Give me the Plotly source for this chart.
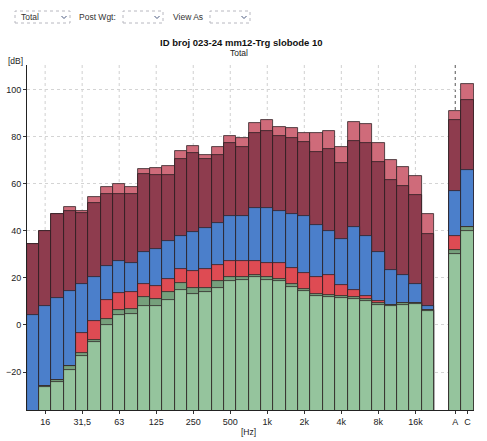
import plotly.graph_objects as go

# ---------------- data ----------------
bands = ["12,5", "16", "20", "25", "31,5", "40", "50", "63", "80", "100", "125", "160",
         "200", "250", "315", "400", "500", "630", "800", "1k", "1,25k", "1,6k", "2k",
         "2,5k", "3,15k", "4k", "5k", "6,3k", "8k", "10k", "12,5k", "16k", "20k"]
totals = ["A", "C"]
band_tick_labels = ["16", "31,5", "63", "125", "250", "500", "1k", "2k", "4k", "8k", "16k"]

# layered spectra [dB] (bands ... , A, C)
lvl_max = [34.6, 40.1, 47.3, 50.2, 48.6, 54.5, 58.4, 59.8, 58.8, 66.1, 66.8, 67.4, 73.9, 76.0,
           72.1, 75.5, 80.2, 79.4, 85.9, 87.1, 84.2, 83.8, 81.4, 81.4, 82.4, 75.7, 86.2, 85.4,
           77.2, 70.1, 67.3, 63.4, 47.2, 90.9, 102.2]
lvl_eq = [34.3, 39.8, 47.0, 48.2, 47.6, 52.0, 55.7, 55.7, 55.7, 64.2, 63.7, 63.7, 70.5, 72.9,
          70.4, 72.2, 77.2, 75.5, 81.7, 82.5, 80.3, 79.6, 77.9, 73.6, 74.6, 68.7, 78.3, 77.2,
          69.1, 61.6, 59.1, 55.3, 38.7, 87.1, 95.5]
lvl_blue = [4.2, 8.0, 11.4, 14.4, 17.4, 20.2, 24.9, 27.3, 26.3, 31.2, 32.2, 35.8, 38.0, 39.4,
            41.1, 43.5, 46.1, 46.1, 49.6, 49.6, 48.2, 47.2, 46.1, 42.5, 39.7, 36.5, 41.8, 37.9,
            31.2, 23.5, 21.3, 17.5, 7.9, 57.0, 65.9]
lvl_red = [-40.0, -26.0, -23.5, -17.3, -3.4, 1.8, 10.7, 13.6, 14.2, 17.5, 16.7, 19.5, 23.7, 23.0,
           23.7, 25.6, 27.2, 27.2, 27.3, 26.5, 26.3, 24.2, 22.0, 20.4, 21.3, 17.1, 15.0, 12.1,
           10.0, 8.6, 9.2, 9.5, 6.5, 37.6, 41.5]
lvl_dgreen = [-40.0, -26.0, -23.5, -17.3, -11.9, -6.2, 2.7, 6.5, 6.9, 11.7, 11.0, 14.2, 17.8, 15.9,
              15.9, 18.8, 20.4, 20.2, 21.2, 20.2, 19.5, 17.4, 15.2, 13.1, 12.7, 12.1, 11.7, 11.0,
              9.2, 8.6, 9.2, 9.5, 6.5, 31.9, 41.5]
lvl_lgreen = [-40.0, -26.5, -24.0, -19.0, -13.3, -7.4, 0.1, 4.1, 4.8, 7.9, 7.9, 10.7, 15.0, 13.1,
              14.2, 15.9, 18.5, 19.2, 20.5, 19.2, 18.5, 16.3, 14.3, 12.4, 11.8, 11.4, 11.0, 10.2,
              8.5, 8.0, 8.6, 8.9, 6.0, 30.3, 39.7]

y_ticks = [-20, 0, 20, 40, 60, 80, 100]

# ---------------- layout constants ----------------
W, H = 487, 441
PL, PR, PT, PB = 27, 474, 65, 410
Y_MIN, Y_MAX = -36.1, 110.4
BASE = -40.0
GAP = 1.23
X_MIN, X_MAX = -0.47, 35.75

x_pos = list(range(len(bands))) + [len(bands) + GAP + j for j in range(len(totals))]
label_to_idx = {b: i for i, b in enumerate(bands)}
tickvals = [label_to_idx[t] for t in band_tick_labels] + x_pos[len(bands):]
ticktext = band_tick_labels + totals

FONT = "Liberation Sans"
OUTLINE = "rgba(40,28,32,0.95)"

series = [
    (lvl_max, "#cf6b7a"),
    (lvl_eq, "#8e3c4e"),
    (lvl_blue, "#4b7fcb"),
    (lvl_red, "#de4b53"),
    (lvl_dgreen, "#76a07c"),
    (lvl_lgreen, "#95c49d"),
]

fig = go.Figure()
for vals, col in series:
    fig.add_trace(go.Bar(
        x=x_pos, y=[v - BASE for v in vals], base=BASE, width=1.0,
        marker=dict(color=col, line=dict(color=OUTLINE, width=0.8)),
        showlegend=False, hoverinfo="skip"))


def px_x(px):
    return (px - PL) / (PR - PL)


def px_y(py):
    return (PB - py) / (PB - PT)


shapes = []
# vertical dotted gridlines at labelled bands
for t in band_tick_labels:
    xv = label_to_idx[t]
    shapes.append(dict(type="line", xref="x", yref="paper", x0=xv, x1=xv, y0=0, y1=1,
                       line=dict(color="#d0d0d0", width=1, dash="dot"), layer="below"))
# dark dotted marker line at A
shapes.append(dict(type="line", xref="x", yref="paper", x0=x_pos[len(bands)], x1=x_pos[len(bands)],
                   y0=0, y1=1, line=dict(color="#555555", width=1, dash="dot"), layer="below"))

# UI combo boxes above the chart
boxes = [(15, 70), (123, 163), (210, 250)]
for x0, x1 in boxes:
    shapes.append(dict(type="rect", xref="paper", yref="paper",
                       x0=px_x(x0), x1=px_x(x1), y0=px_y(23), y1=px_y(11),
                       line=dict(color="#b8b8c0", width=1, dash="dot"), fillcolor="white"))
    cx = x1 - 6
    shapes.append(dict(type="path", xref="paper", yref="paper",
                       path=f"M {px_x(cx-2.5)},{px_y(16)} L {px_x(cx)},{px_y(18.5)} L {px_x(cx+2.5)},{px_y(16)}",
                       line=dict(color="#4a5a80", width=1)))

annotations = [
    dict(text="Total", x=px_x(19), y=px_y(17), xref="paper", yref="paper", xanchor="left",
         yanchor="middle", showarrow=False, font=dict(family=FONT, size=8.5, color="#333")),
    dict(text="Post Wgt:", x=px_x(77), y=px_y(17), xref="paper", yref="paper", xanchor="left",
         yanchor="middle", showarrow=False, font=dict(family=FONT, size=8.5, color="#333")),
    dict(text="View As", x=px_x(171), y=px_y(17), xref="paper", yref="paper", xanchor="left",
         yanchor="middle", showarrow=False, font=dict(family=FONT, size=8.5, color="#333")),
    dict(text="<b>ID broj 023-24 mm12-Trg slobode 10</b>", x=px_x(241), y=px_y(42), xref="paper",
         yref="paper", xanchor="center", yanchor="middle", showarrow=False,
         font=dict(family=FONT, size=9.5, color="#111")),
    dict(text="Total", x=px_x(239), y=px_y(53), xref="paper", yref="paper", xanchor="center",
         yanchor="middle", showarrow=False, font=dict(family=FONT, size=8.5, color="#222")),
    dict(text="[dB]", x=px_x(6), y=px_y(61), xref="paper", yref="paper", xanchor="left",
         yanchor="middle", showarrow=False, font=dict(family=FONT, size=8.5, color="#222")),
    dict(text="[Hz]", x=px_x(248), y=px_y(432), xref="paper", yref="paper", xanchor="center",
         yanchor="middle", showarrow=False, font=dict(family=FONT, size=8.5, color="#222")),
]

fig.update_layout(
    width=W, height=H, autosize=False,
    margin=dict(l=PL, r=W - PR, t=PT, b=H - PB, pad=0, autoexpand=False),
    paper_bgcolor="white", plot_bgcolor="white",
    barmode="overlay", bargap=0,
    font=dict(family=FONT, size=9, color="#222"),
    shapes=shapes, annotations=annotations,
    xaxis=dict(range=[X_MIN, X_MAX], tickmode="array", tickvals=tickvals, ticktext=ticktext,
               ticks="outside", ticklen=3, tickcolor="#333", showgrid=False, zeroline=False,
               showline=True, linecolor="#222", linewidth=1, tickfont=dict(size=9),
               automargin=False),
    yaxis=dict(range=[Y_MIN, Y_MAX], tickmode="array", tickvals=y_ticks,
               ticks="outside", ticklen=3, tickcolor="#333", showgrid=True, gridcolor="#d4d4d4",
               griddash="dot", gridwidth=1, zeroline=False, showline=True, linecolor="#222",
               linewidth=1, tickfont=dict(size=9), automargin=False),
)

fig.write_html("out.html", config={"displayModeBar": False},
               post_script="document.body.style.margin='0px';document.body.style.overflow='hidden';")
